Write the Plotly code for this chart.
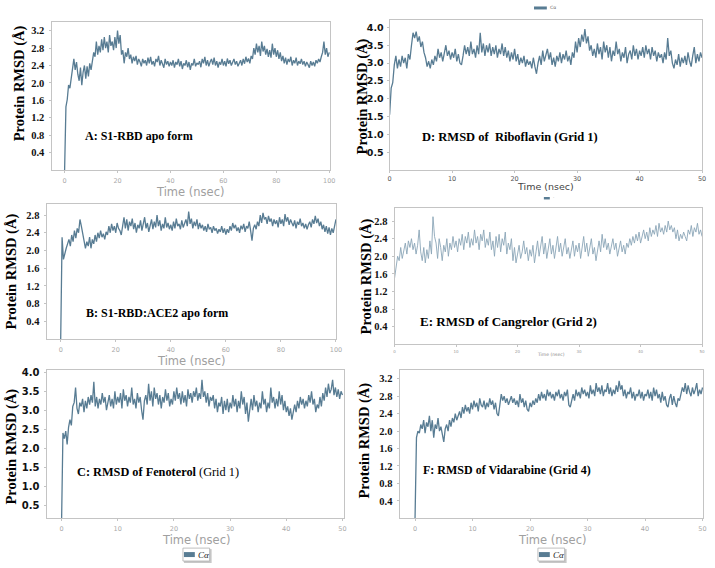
import plotly.graph_objects as go

# ---------------- data ----------------
step_a = 0.5   # ns per sample, panels A and B (0-100 ns)
step_c = 0.25  # ns per sample, panels C-F (0-50 ns)

rmsd_a = [
    0.0, 1.45, 1.62, 1.95, 1.88, 2.15, 2.32, 2.55, 2.30, 2.48, 2.20, 2.05, 2.35, 1.95, 2.25, 2.40, 2.10, 2.38, 2.15, 2.45, 2.30,
    2.55, 2.70, 2.60, 2.95, 2.65, 2.85, 2.70, 3.00, 2.75, 3.05, 2.80, 2.95, 2.70, 3.10, 2.85, 2.95, 2.75, 3.05, 2.80, 3.20,
    2.90, 3.10, 2.65, 2.75, 2.45, 2.70, 2.60, 2.80, 2.55, 2.65, 2.45, 2.60, 2.50, 2.62, 2.42, 2.55, 2.48, 2.38, 2.55, 2.45,
    2.52, 2.40, 2.58, 2.45, 2.60, 2.42, 2.50, 2.38, 2.55, 2.48, 2.62, 2.40, 2.52, 2.45, 2.35, 2.55, 2.42, 2.50, 2.38, 2.48,
    2.40, 2.52, 2.35, 2.48, 2.42, 2.55, 2.38, 2.50, 2.32, 2.45, 2.40, 2.52, 2.36, 2.48, 2.30, 2.45, 2.40, 2.55, 2.38, 2.46,
    2.42, 2.50, 2.36, 2.55, 2.45, 2.60, 2.40, 2.52, 2.38, 2.48, 2.55, 2.42, 2.58, 2.40, 2.50, 2.35, 2.48, 2.42, 2.55, 2.40,
    2.50, 2.38, 2.56, 2.44, 2.52, 2.40, 2.48, 2.55, 2.42, 2.50, 2.38, 2.46, 2.52, 2.40, 2.55, 2.44, 2.60, 2.48, 2.56, 2.45,
    2.62, 2.55, 2.80, 2.65, 2.90, 2.70, 2.85, 2.62, 2.95, 2.72, 2.85, 2.65, 2.78, 2.60, 2.75, 2.58, 2.90, 2.65, 2.80, 2.60,
    2.75, 2.55, 2.70, 2.50, 2.62, 2.45, 2.58, 2.42, 2.55, 2.48, 2.60, 2.40, 2.52, 2.45, 2.58, 2.40, 2.50, 2.44, 2.55, 2.42,
    2.50, 2.38, 2.48, 2.42, 2.35, 2.50, 2.40, 2.48, 2.38, 2.52, 2.45, 2.55, 2.48, 2.60, 2.70, 2.95, 2.65, 2.80, 2.60, 2.70,
]

rmsd_b = [
    0.0, 2.30, 1.80, 1.95, 2.05, 2.15, 2.25, 2.10, 2.35, 2.20, 2.45, 2.28, 2.50, 2.40, 2.70, 2.55, 2.40, 2.25, 2.05, 2.20, 2.10,
    2.30, 2.05, 2.25, 2.15, 2.35, 2.20, 2.40, 2.28, 2.45, 2.30, 2.38, 2.25, 2.42, 2.35, 2.55, 2.40, 2.60, 2.45, 2.55, 2.40,
    2.62, 2.50, 2.45, 2.35, 2.55, 2.75, 2.50, 2.70, 2.45, 2.65, 2.55, 2.72, 2.48, 2.62, 2.40, 2.58, 2.50, 2.68, 2.45, 2.60,
    2.75, 2.50, 2.62, 2.42, 2.58, 2.70, 2.48, 2.65, 2.52, 2.80, 2.55, 2.68, 2.45, 2.60, 2.50, 2.75, 2.52, 2.62, 2.48, 2.58,
    2.45, 2.65, 2.50, 2.72, 2.55, 2.60, 2.48, 2.68, 2.52, 2.62, 2.70, 2.55, 2.88, 2.60, 2.72, 2.50, 2.65, 2.55, 2.70, 2.48,
    2.62, 2.50, 2.58, 2.45, 2.55, 2.42, 2.60, 2.48, 2.52, 2.40, 2.55, 2.45, 2.50, 2.38, 2.48, 2.42, 2.55, 2.40, 2.50, 2.36,
    2.48, 2.40, 2.55, 2.45, 2.62, 2.50, 2.58, 2.44, 2.52, 2.40, 2.56, 2.48, 2.60, 2.42, 2.55, 2.50, 2.65, 2.45, 2.22, 2.50,
    2.58, 2.48, 2.65, 2.55, 2.80, 2.62, 2.85, 2.70, 2.75, 2.60, 2.78, 2.65, 2.72, 2.55, 2.70, 2.60, 2.68, 2.52, 2.75, 2.60,
    2.70, 2.55, 2.82, 2.65, 2.75, 2.58, 2.70, 2.62, 2.55, 2.68, 2.50, 2.65, 2.58, 2.72, 2.55, 2.62, 2.50, 2.60, 2.48, 2.58,
    2.65, 2.52, 2.70, 2.60, 2.78, 2.62, 2.72, 2.55, 2.65, 2.48, 2.58, 2.42, 2.55, 2.38, 2.52, 2.35, 2.50, 2.40, 2.55, 2.70,
]

rmsd_c = [
    0.0, 2.40, 2.25, 2.45, 2.10, 2.55, 2.75, 2.60, 3.10, 3.20, 3.60, 3.05, 2.90, 3.20, 3.10, 3.30, 2.95, 3.25, 3.05, 3.35, 3.15,
    3.40, 3.20, 3.75, 3.10, 3.35, 3.05, 3.30, 3.15, 3.45, 3.20, 3.35, 3.00, 3.25, 3.40, 3.10, 3.30, 3.05, 3.50, 3.15, 3.35,
    3.20, 3.45, 3.05, 3.55, 3.25, 3.40, 3.10, 3.35, 3.20, 3.60, 3.15, 3.30, 3.05, 3.45, 3.20, 3.35, 3.00, 2.75, 3.25, 3.40,
    3.15, 3.70, 3.25, 3.50, 3.10, 3.60, 3.30, 3.45, 3.15, 3.40, 3.05, 3.35, 3.20, 3.55, 3.25, 3.45, 3.10, 3.30, 3.15, 3.50,
    3.25, 3.60, 3.30, 3.45, 3.15, 3.50, 3.20, 3.40, 3.10, 3.55, 3.30, 3.45, 3.20, 3.50, 3.35, 3.60, 3.25, 3.45, 3.30, 3.80,
    3.35, 3.50, 3.20, 3.45, 3.10, 3.35, 3.25, 3.40, 3.05, 3.30, 2.95, 3.20, 3.10, 3.35, 2.90, 3.25, 3.00, 3.30, 2.95, 3.20,
    3.05, 3.40, 3.10, 3.30, 2.95, 3.25, 3.05, 3.50, 3.15, 3.35, 2.90, 3.20, 2.70, 3.10, 3.30, 3.00, 3.40, 3.10, 3.25, 2.95,
    3.20, 3.05, 3.50, 3.15, 3.30, 2.95, 3.20, 3.05, 3.60, 3.20, 3.35, 3.05, 3.30, 3.10, 3.50, 3.15, 3.40, 3.00, 3.25, 2.95,
    3.10, 2.85, 3.05, 2.75, 3.00, 3.15, 2.95, 3.25, 3.05, 3.35, 3.15, 3.30, 3.05, 3.25, 3.10, 3.40, 3.20, 3.50, 3.15, 3.30,
    2.95, 3.15, 3.05, 3.35, 3.10, 3.45, 3.25, 3.60, 3.35, 3.70, 3.45, 3.55, 3.80, 3.40, 3.60, 3.35, 3.55, 3.30, 3.50, 3.40,
]

rmsd_d = [
    1.55, 2.30, 2.45, 2.95, 3.20, 2.85, 3.10, 2.90, 3.20, 3.00, 3.15, 2.85, 3.25, 3.10, 3.50, 3.85, 3.70, 3.88, 3.60, 3.75, 3.45,
    3.60, 3.30, 3.15, 2.90, 3.05, 2.85, 3.10, 2.95, 3.20, 3.05, 3.40, 3.15, 3.30, 3.05, 3.25, 3.50, 3.20, 3.35, 3.10, 3.30,
    3.15, 3.40, 3.05, 3.25, 3.00, 2.95, 3.20, 3.50, 3.25, 3.45, 3.20, 3.60, 3.25, 3.40, 3.15, 3.50, 3.25, 3.85, 3.30, 3.55,
    3.20, 3.50, 3.30, 3.55, 3.20, 3.45, 3.25, 3.50, 3.15, 3.40, 3.25, 3.55, 3.20, 3.45, 3.15, 3.35, 3.05, 3.30, 3.10, 3.40,
    3.05, 3.25, 2.95, 3.15, 3.00, 3.20, 2.90, 3.10, 2.95, 3.05, 2.85, 3.15, 2.90, 2.70, 3.00, 3.20, 2.95, 3.35, 3.05, 3.25,
    3.40, 3.10, 3.30, 2.95, 3.15, 2.90, 3.20, 3.05, 3.30, 3.00, 3.25, 3.10, 3.35, 3.05, 3.20, 2.95, 3.30, 3.15, 3.60, 3.30,
    3.70, 3.45, 3.80, 3.60, 3.95, 3.55, 3.75, 3.35, 3.50, 3.20, 3.40, 3.15, 3.55, 3.25, 3.45, 3.10, 3.60, 3.30, 3.50, 3.15,
    3.45, 3.05, 3.35, 3.20, 3.60, 3.25, 3.40, 3.05, 3.30, 3.15, 3.45, 3.00, 3.25, 3.35, 3.10, 3.50, 3.20, 3.40, 3.10, 3.35,
    3.20, 3.45, 3.15, 3.50, 3.25, 3.40, 3.10, 3.45, 3.20, 3.35, 3.05, 3.30, 3.15, 3.25, 3.00, 3.30, 3.10, 3.70, 3.20, 3.35,
    3.00, 2.85, 3.10, 2.95, 3.25, 2.90, 3.15, 3.00, 3.20, 2.95, 3.30, 3.05, 2.90, 3.20, 3.45, 3.00, 3.25, 3.05, 3.30, 3.15,
]

rmsd_e = [
    1.50, 1.75, 2.00, 1.90, 2.20, 1.95, 2.10, 2.30, 2.05, 2.35, 2.20, 2.40, 2.15, 2.30, 2.05, 2.25, 2.60, 2.10, 1.90, 2.20, 1.85,
    2.15, 1.95, 2.35, 2.05, 2.90, 2.45, 2.30, 1.95, 2.40, 2.20, 1.90, 2.25, 2.10, 2.40, 2.00, 2.30, 2.15, 2.45, 2.20, 2.35,
    2.10, 2.40, 2.25, 2.50, 2.15, 2.45, 2.30, 2.55, 2.20, 2.40, 2.25, 2.60, 2.30, 2.45, 2.15, 2.50, 2.35, 2.60, 2.20, 2.40,
    2.25, 2.55, 2.15, 2.35, 2.00, 2.45, 2.20, 2.50, 2.10, 2.40, 2.25, 2.55, 2.05, 2.30, 2.15, 2.40, 1.90, 2.20, 1.85, 2.05,
    2.25, 1.95, 2.10, 2.35, 2.05, 2.20, 1.90, 2.15, 2.00, 2.25, 1.85, 2.10, 2.35, 2.00, 2.20, 2.45, 2.05, 2.30, 1.95, 2.15,
    2.40, 2.05, 2.25, 1.95, 2.20, 2.45, 2.10, 2.30, 2.00, 2.25, 2.40, 2.05, 2.20, 1.95, 2.15, 2.35, 2.00, 2.25, 2.10, 2.30,
    1.95, 2.20, 2.45, 2.10, 2.30, 2.00, 2.25, 2.40, 2.05, 2.20, 1.90, 2.15, 2.35, 2.10, 2.50, 2.20, 2.40, 2.15, 2.30, 2.05,
    2.25, 2.40, 2.15, 2.30, 2.00, 2.20, 2.35, 2.10, 2.25, 2.05, 2.30, 2.20, 2.40, 2.25, 2.45, 2.30, 2.50, 2.35, 2.55, 2.30,
    2.45, 2.60, 2.40, 2.55, 2.35, 2.65, 2.45, 2.60, 2.50, 2.70, 2.45, 2.75, 2.55, 2.65, 2.50, 2.70, 2.55, 2.80, 2.60, 2.70,
    2.55, 2.65, 2.40, 2.60, 2.35, 2.50, 2.40, 2.55, 2.45, 2.35, 2.60, 2.50, 2.70, 2.45, 2.65, 2.55, 2.75, 2.50, 2.60, 2.45,
]

rmsd_f = [
    0.0, 1.85, 2.00, 1.95, 2.15, 2.05, 2.25, 1.95, 2.20, 2.10, 2.35, 2.00, 2.25, 1.85, 2.15, 2.05, 2.30, 2.00, 2.10, 1.90, 1.75,
    2.05, 2.15, 2.00, 2.25, 2.10, 2.30, 2.20, 2.40, 2.25, 2.35, 2.45, 2.30, 2.55, 2.40, 2.60, 2.45, 2.55, 2.40, 2.65, 2.50,
    2.70, 2.55, 2.65, 2.45, 2.75, 2.60, 2.55, 2.70, 2.50, 2.65, 2.55, 2.75, 2.60, 2.70, 2.50, 2.65, 2.40, 2.35, 2.60, 2.85,
    2.70, 2.80, 2.65, 2.75, 2.60, 2.70, 2.80, 2.65, 2.75, 2.60, 2.70, 2.55, 2.85, 2.65, 2.75, 2.55, 2.70, 2.50, 2.45, 2.65,
    2.55, 2.70, 2.60, 2.75, 2.65, 2.85, 2.70, 2.90, 2.75, 2.85, 2.70, 2.95, 2.80, 2.90, 2.75, 2.85, 2.70, 2.90, 2.80, 2.95,
    2.75, 2.85, 2.70, 2.90, 2.80, 2.95, 2.60, 2.55, 2.75, 2.85, 2.70, 2.95, 2.80, 2.90, 2.75, 3.00, 2.85, 2.95, 2.80, 2.90,
    2.75, 3.05, 2.85, 2.95, 2.80, 3.10, 2.90, 3.00, 2.85, 3.05, 2.80, 2.95, 2.90, 3.10, 2.85, 3.00, 2.80, 2.95, 2.85, 3.05,
    2.90, 3.15, 2.95, 3.05, 2.80, 2.95, 2.75, 2.90, 2.85, 3.00, 2.75, 2.90, 2.70, 2.85, 2.80, 2.95, 2.75, 2.90, 2.70, 2.85,
    2.80, 2.95, 2.75, 2.90, 2.70, 3.00, 2.80, 2.95, 2.75, 2.85, 2.65, 2.90, 2.70, 2.80, 2.60, 2.55, 2.75, 2.85, 2.60, 2.80,
    2.65, 2.55, 2.75, 2.70, 2.85, 3.00, 2.90, 3.10, 2.85, 3.05, 2.90, 2.80, 3.00, 2.85, 2.95, 3.10, 2.80, 2.95, 2.85, 3.00,
]

labels = {
    "A": "A: S1-RBD apo form",
    "B": "B: S1-RBD:ACE2 apo form",
    "C": "C: RMSD of Fenoterol<span style='font-weight:normal'> (Grid 1)</span>",
    "D": "D: RMSD of  Riboflavin (Grid 1)",
    "E": "E: RMSD of Cangrelor (Grid 2)",
    "F": "F: RMSD of Vidarabine (Grid 4)",
}
ticks_x100 = [0, 20, 40, 60, 80, 100]
ticks_x50 = [0, 10, 20, 30, 40, 50]
ticks_y04_32 = [0.4, 0.8, 1.2, 1.6, 2.0, 2.4, 2.8, 3.2]
ticks_y04_28 = [0.4, 0.8, 1.2, 1.6, 2.0, 2.4, 2.8]
ticks_y05_40 = [0.5, 1.0, 1.5, 2.0, 2.5, 3.0, 3.5, 4.0]

# ---------------- layout helpers ----------------
W, H = 715, 568
def px(x): return x / W
def py(y): return 1 - y / H

LINE = "#587c93"
SERIF = "Liberation Serif"
SANS = "DejaVu Sans"

panels = [
    dict(k="A", v=rmsd_a, st=step_a, box=(51, 332, 19, 168), xr=[-4.6, 100.4], yr=[0, 3.4],
         xt=ticks_x100, yt=ticks_y04_32, yf=dict(family=SERIF, size=10.5, color="#111", weight="bold"),
         xf=dict(family=SANS, size=6.5, color="#aaaaaa"), lw=1.3, lc=LINE, so=3, xso=2),
    dict(k="B", v=rmsd_b, st=step_a, box=(46, 338, 202, 338), xr=[-4.8, 100.1], yr=[0, 3.05],
         xt=ticks_x100, yt=ticks_y04_28, yf=dict(family=SERIF, size=10.5, color="#111", weight="bold"),
         xf=dict(family=SANS, size=6.5, color="#aaaaaa"), lw=1.3, lc=LINE, so=3, xso=2),
    dict(k="C", v=rmsd_c, st=step_c, box=(46, 346, 369, 518), xr=[-2.5, 50.3], yr=[0.15, 4.06],
         xt=ticks_x50, yt=ticks_y05_40, yf=dict(family=SANS, size=10, color="#111", weight="bold"),
         xf=dict(family=SANS, size=6.5, color="#aaaaaa"), lw=1.3, lc=LINE, so=3, xso=2),
    dict(k="D", v=rmsd_d, st=step_c, box=(392, 708, 17, 168), xr=[0, 50], yr=[0, 4.21],
         xt=ticks_x50, yt=ticks_y05_40, yf=dict(family=SANS, size=9.5, color="#111", weight="bold"),
         xf=dict(family=SANS, size=6.5, color="#555555"), lw=1.3, lc=LINE, so=1, xso=0),
    dict(k="E", v=rmsd_e, st=step_c, box=(397, 708, 206, 343), xr=[0, 50], yr=[0, 3.1],
         xt=ticks_x50, yt=ticks_y04_28, yf=dict(family=SERIF, size=10.5, color="#111", weight="bold"),
         xf=dict(family=SANS, size=4, color="#999999"), lw=0.9, lc="#8ba6b8", so=2, xso=1),
    dict(k="F", v=rmsd_f, st=step_c, box=(403, 709, 369, 518), xr=[-2.53, 50.1], yr=[0, 3.4],
         xt=ticks_x50, yt=ticks_y04_32, yf=dict(family=SERIF, size=10.5, color="#111", weight="bold"),
         xf=dict(family=SANS, size=6.5, color="#aaaaaa"), lw=1.3, lc=LINE, so=3, xso=2),
]

fig = go.Figure()
layout = {}
for i, p in enumerate(panels, start=1):
    sx = "" if i == 1 else str(i)
    t = [j * p["st"] for j in range(len(p["v"]))]
    fig.add_trace(go.Scatter(x=t, y=p["v"], mode="lines", name="Cα", showlegend=False,
                             line=dict(color=p["lc"], width=p["lw"]),
                             xaxis="x" + sx, yaxis="y" + sx))
    l, r, tp, b = p["box"]
    layout["xaxis" + sx] = dict(domain=[px(l), px(r)], range=p["xr"], anchor="y" + sx,
                                tickvals=p["xt"], tickfont=p["xf"], showgrid=False, zeroline=False,
                                showline=True, linecolor="#c4c4c4", linewidth=1, mirror=True,
                                ticks="outside", ticklen=2, tickcolor="#c4c4c4",
                                ticklabelstandoff=p["xso"])
    layout["yaxis" + sx] = dict(domain=[py(b), py(tp)], range=p["yr"], anchor="x" + sx,
                                tickvals=p["yt"], tickformat=".1f", tickfont=p["yf"], showgrid=False,
                                zeroline=False, showline=True, linecolor="#c4c4c4", linewidth=1,
                                mirror=True, ticks="outside", ticklen=2, tickcolor="#c4c4c4",
                                ticklabelstandoff=p["so"])

fig.update_layout(width=W, height=H, margin=dict(l=0, r=0, t=0, b=0),
                  paper_bgcolor="white", plot_bgcolor="white", showlegend=False, **layout)

ann = []
for k, cx, cy, sz in [("A", 139, 134, 12), ("B", 157, 312, 12), ("C", 158, 471, 12.3),
                      ("D", 514, 135, 12.5), ("E", 512, 320, 13), ("F", 511, 469, 12)]:
    ann.append(dict(x=px(cx), y=py(cy), xref="paper", yref="paper", text=labels[k], showarrow=False,
                    xanchor="center", yanchor="middle",
                    font=dict(family=SERIF, size=sz, color="black", weight="bold")))
for cx, cy in [(18, 81), (10, 270), (10, 446), (365, 94), (369, 275), (367, 440)]:
    ann.append(dict(x=px(cx), y=py(cy), xref="paper", yref="paper", text="Protein RMSD (Å)",
                    textangle=-90, showarrow=False, xanchor="center", yanchor="middle",
                    font=dict(family=SERIF, size=14.5, color="black", weight="bold")))
for cx, cy, sz, col in [(190, 190, 11.5, "#a0a0a0"), (191, 360, 11.5, "#a0a0a0"),
                        (196, 540, 11.5, "#a0a0a0"), (556, 540, 11.5, "#a0a0a0"),
                        (550, 184, 9.5, "#444444"), (555, 353, 4.5, "#888888")]:
    ann.append(dict(x=px(cx), y=py(cy), xref="paper", yref="paper", text="Time (nsec)",
                    showarrow=False, xanchor="center", yanchor="middle",
                    font=dict(family=SANS, size=sz, color=col)))

shapes = []
for lx in (183, 542):
    shapes.append(dict(type="rect", xref="paper", yref="paper", x0=px(lx + 1), x1=px(lx + 29),
                       y0=py(563), y1=py(549), fillcolor="#c8c8c8", line=dict(width=0), layer="above"))
    shapes.append(dict(type="rect", xref="paper", yref="paper", x0=px(lx), x1=px(lx + 27),
                       y0=py(561), y1=py(548), fillcolor="white", line=dict(color="#b0b0b0", width=0.8),
                       layer="above"))
    shapes.append(dict(type="rect", xref="paper", yref="paper", x0=px(lx + 1), x1=px(lx + 12),
                       y0=py(557), y1=py(552), fillcolor=LINE, line=dict(width=0), layer="above"))
    ann.append(dict(x=px(lx + 13), y=py(554.5), xref="paper", yref="paper", text="<i>Cα</i>",
                    showarrow=False, xanchor="left", yanchor="middle",
                    font=dict(family=SERIF, size=9, color="#222")))
shapes.append(dict(type="rect", xref="paper", yref="paper", x0=px(538), x1=px(551),
                   y0=py(6.5), y1=py(3.5), fillcolor=LINE, line=dict(width=0)))
ann.append(dict(x=px(552), y=py(5), xref="paper", yref="paper", text="Cα", showarrow=False,
                xanchor="left", yanchor="middle", font=dict(family=SANS, size=4.5, color="#666")))
shapes.append(dict(type="rect", xref="paper", yref="paper", x0=px(548), x1=px(554),
                   y0=py(197.5), y1=py(195), fillcolor=LINE, line=dict(width=0)))
ann.append(dict(x=px(555), y=py(196), xref="paper", yref="paper", text="·", showarrow=False,
                xanchor="left", yanchor="middle", font=dict(family=SANS, size=4, color="#888")))

fig.update_layout(annotations=ann, shapes=shapes)
fig.write_html("out.html", config={"displayModeBar": False},
               post_script="document.body.style.margin='0px';document.body.style.padding='0px';")
